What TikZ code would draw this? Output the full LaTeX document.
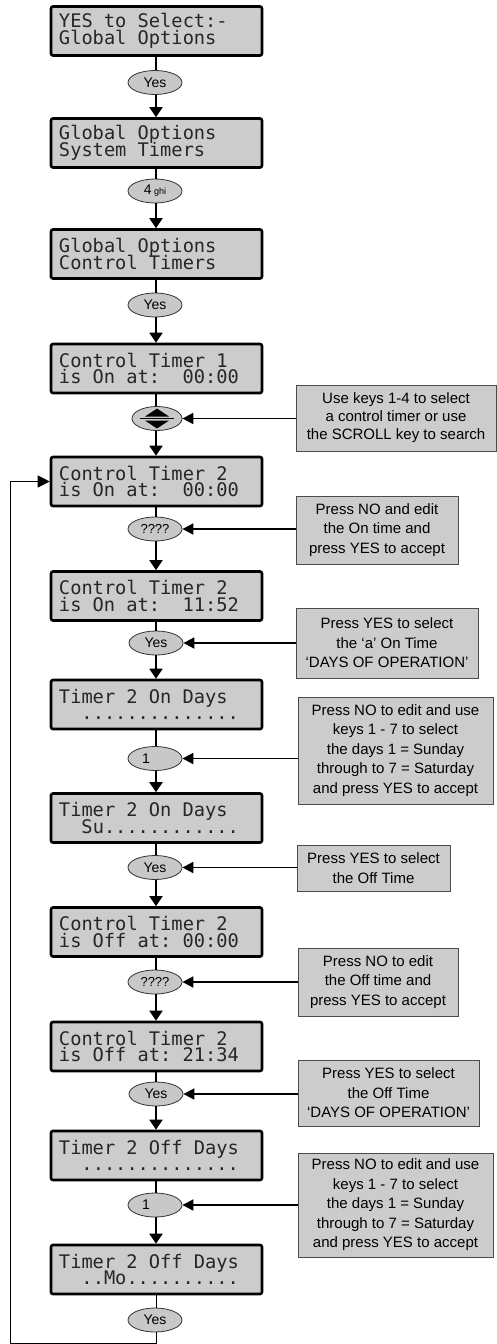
\documentclass[tikz,border=0pt]{standalone}
\usepackage{fontspec}
\setmainfont{Liberation Sans}
\newfontfamily\lcdfont{DejaVu Sans Mono}
\usetikzlibrary{arrows.meta,shapes.geometric}
\definecolor{lcdgray}{HTML}{CCCCCC}
\definecolor{keygray}{HTML}{C8C8C8}
\newcommand\lcdset{\lcdfont\fontsize{18.7}{16.5}\selectfont\lineskiplimit-30pt\relax}
\makeatletter
\newcommand\lcdline[1]{\leavevmode\@tfor\lcdch:=#1\do{\hbox to 11.25pt{\hss\if*\lcdch\else\lcdch\fi\hss}}}
\makeatother
\newcommand\infoset{\fontsize{15}{19.5}\selectfont\lineskiplimit-30pt\relax}
\newcommand\infosetb{\fontsize{15}{18}\selectfont\lineskiplimit-30pt\relax}
\begin{document}
\begin{tikzpicture}[x=1pt,y=-1pt,
 lcd/.style={draw=black, line width=2.6pt, rounded corners=2pt, fill=lcdgray, text=black!85,
   minimum width=211pt, minimum height=49pt, text width=195pt, inner xsep=8pt, inner ysep=0pt,
   align=left, font=\lcdset},
 key/.style={ellipse, draw=black!80, line width=0.8pt, fill=keygray,
   minimum width=54pt, minimum height=24pt, inner sep=0pt, font=\fontsize{14}{14}\selectfont},
 info/.style={draw=black!70, line width=0.8pt, fill=lcdgray, align=center, inner sep=0pt,
   font=\infoset},
 link/.style={line width=1.8pt},
 flow/.style={line width=1.8pt, -{Triangle[length=10pt,width=13pt]}},
 note/.style={line width=1.8pt, -{Triangle[length=11pt,width=11pt]}},
 back/.style={line width=1pt, -{Triangle[length=12pt,width=12pt]}}]
\useasboundingbox (0,0) rectangle (497,1344);

% LCD screens
\node[lcd] (b1)  at (156.5,31)     {\lcdline{YES*to*Select:-}\\\lcdline{Global*Options}};
\node[lcd] (b2)  at (156.5,143)    {\lcdline{Global*Options}\\\lcdline{System*Timers}};
\node[lcd] (b3)  at (156.5,254)    {\lcdline{Global*Options}\\\lcdline{Control*Timers}};
\node[lcd] (b4)  at (156.5,368.5)  {\lcdline{Control*Timer*1}\\\lcdline{is*On*at:**00:00}};
\node[lcd] (b5)  at (156.5,481.5)  {\lcdline{Control*Timer*2}\\\lcdline{is*On*at:**00:00}};
\node[lcd] (b6)  at (156.5,596)    {\lcdline{Control*Timer*2}\\\lcdline{is*On*at:**11:52}};
\node[lcd] (b7)  at (156.5,704.5)  {\lcdline{Timer*2*On*Days}\\\lcdline{**..............}};
\node[lcd] (b8)  at (156.5,818)    {\lcdline{Timer*2*On*Days}\\\lcdline{**Su............}};
\node[lcd] (b9)  at (156.5,932)    {\lcdline{Control*Timer*2}\\\lcdline{is*Off*at:*00:00}};
\node[lcd] (b10) at (156.5,1046.5) {\lcdline{Control*Timer*2}\\\lcdline{is*Off*at:*21:34}};
\node[lcd] (b11) at (156.5,1155.5) {\lcdline{Timer*2*Off*Days}\\\lcdline{**..............}};
\node[lcd] (b12) at (156.5,1269.5) {\lcdline{Timer*2*Off*Days}\\\lcdline{**..Mo..........}};

% keys
\node[key] (k1)  at (155,82.5)  {Yes};
\node[key] (k2)  at (155,191)   {4\,{\fontsize{9}{9}\selectfont ghi}};
\node[key] (k3)  at (155,305)   {Yes};
\node[key, minimum width=50pt] (k4)  at (157,418.5) {};
\node[key] (k5)  at (155,529)   {\fontsize{13}{13}\selectfont ????};
\node[key] (k6)  at (156,643)   {Yes};
\node[key] (k7)  at (155,758.5) {1\hspace*{18pt}};
\node[key] (k8)  at (155,867.5) {Yes};
\node[key] (k9)  at (155,982)   {\fontsize{13}{13}\selectfont ????};
\node[key] (k10) at (156,1094)  {Yes};
\node[key] (k11) at (155,1205)  {1\hspace*{18pt}};
\node[key] (k12) at (155,1320)  {Yes};

% scroll symbol
\fill[black] (145,416.5) -- (169,416.5) -- (157,408.5) -- cycle;
\fill[black] (145,420.5) -- (169,420.5) -- (157,428.5) -- cycle;
\draw[line width=0.8pt] (140,418.5) -- (174,418.5);

% info boxes
\node[info, minimum width=200pt, minimum height=66pt, font=\infosetb] (i1) at (396,418)
  {Use keys 1-4 to select\\a control timer or use\\the SCROLL key to search};
\node[info, minimum width=162pt, minimum height=68pt] (i2) at (377,530)
  {Press NO and edit\\the On time and\\press YES to accept};
\node[info, minimum width=182pt, minimum height=70pt] (i3) at (387,643)
  {Press YES to select\\the ‘a’ On Time\\‘DAYS OF OPERATION’};
\node[info, minimum width=195pt, minimum height=107pt] (i4) at (395.5,750.5)
  {Press NO to edit and use\\keys 1 - 7 to select\\the days 1 = Sunday\\through to 7 = Saturday\\and press YES to accept};
\node[info, minimum width=153pt, minimum height=46pt] (i5) at (373.5,868)
  {Press YES to select\\the Off Time};
\node[info, minimum width=160pt, minimum height=68pt] (i6) at (378,982)
  {Press NO to edit\\the Off time and\\press YES to accept};
\node[info, minimum width=181pt, minimum height=66pt] (i7) at (388.5,1093)
  {Press YES to select\\the Off Time\\‘DAYS OF OPERATION’};
\node[info, minimum width=195pt, minimum height=104pt] (i8) at (395.5,1205)
  {Press NO to edit and use\\keys 1 - 7 to select\\the days 1 = Sunday\\through to 7 = Saturday\\and press YES to accept};

% main flow
\coordinate (axis) at (156,0);
\foreach \b/\k/\n in {b1/k1/b2, b2/k2/b3, b3/k3/b4, b4/k4/b5, b5/k5/b6, b6/k6/b7,
                      b7/k7/b8, b8/k8/b9, b9/k9/b10, b10/k10/b11, b11/k11/b12}{
  \draw[link] (axis |- \b.south) -- (axis |- \k.north);
  \draw[flow] (axis |- \k.south) -- (axis |- \n.north);
}
\draw[line width=1pt] (axis |- b12.south) -- (axis |- k12.north);

% notes
\foreach \i/\k in {i1/k4, i2/k5, i3/k6, i4/k7, i5/k8, i6/k9, i7/k10, i8/k11}{
  \draw[note] (\i.west |- \k.east) -- (\k.east);
}

% loop back
\coordinate (lp) at (10.5,1343);
\draw[back] (axis |- k12.south) -- (axis |- lp) -- (lp) |- (b5.west);
\end{tikzpicture}
\end{document}
